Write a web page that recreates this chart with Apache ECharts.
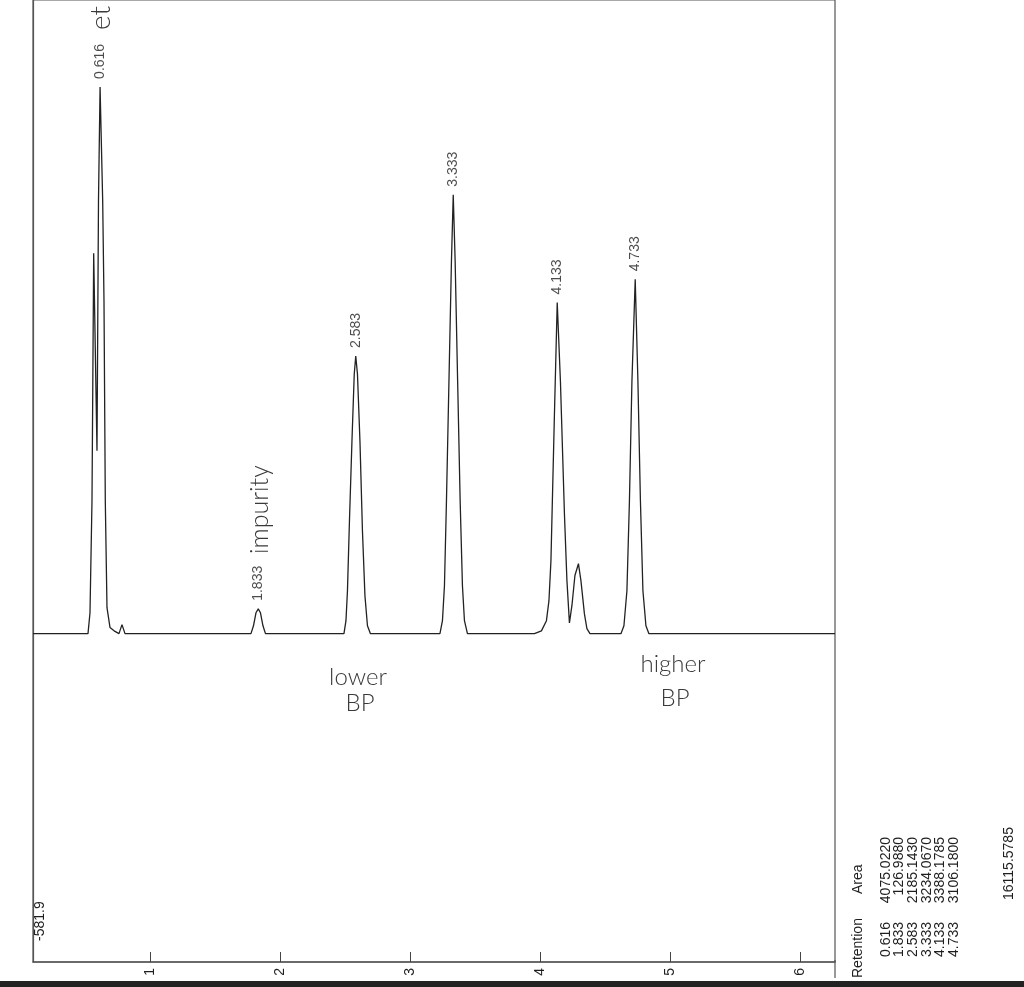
<!DOCTYPE html>
<html>
<head>
<meta charset="utf-8">
<script src="https://cdn.jsdelivr.net/npm/echarts@6/dist/echarts.min.js"></script>
<style>
  html, body { margin: 0; padding: 0; background: #fff; }
  #chart { width: 1024px; height: 987px; }
</style>
</head>
<body>
<div id="chart"></div>
<script>
// peak table printed by the integrator
var retention = [0.616, 1.833, 2.583, 3.333, 4.133, 4.733];
var areas = ["4075.0220", "126.9880", "2185.1430", "3234.0670", "3388.1785", "3106.1800"];
var totalArea = "16115.5785";
var xTicks = [1, 2, 3, 4, 5, 6];
var yMin = -581.9;
var yMax = 1123;
var xMin = 0.1;
var xMax = 6.27;

// trace as [minutes, signal]
var leadIn = [[0.1, 0]];
var peak0616 = [[0.5231, 0], [0.5385, 37], [0.5538, 235], [0.5669, 674], [0.5923, 324],
  [0.6038, 766], [0.616, 969], [0.6362, 766], [0.6462, 589], [0.6562, 235], [0.6692, 46],
  [0.6923, 11], [0.7308, 4], [0.7615, 0], [0.7846, 16], [0.8077, 0]];
var peak1833 = [[1.7769, 0], [1.7962, 14], [1.8154, 37], [1.833, 44], [1.85, 37],
  [1.8692, 14], [1.8885, 0]];
var peak2583 = [[2.4923, 0], [2.5077, 23], [2.5192, 76], [2.5346, 200], [2.5538, 341],
  [2.5715, 460], [2.583, 492], [2.5962, 460], [2.6154, 341], [2.6346, 182], [2.6538, 67],
  [2.6731, 14], [2.6962, 0]];
var peak3333 = [[3.2308, 0], [3.25, 23], [3.2654, 85], [3.2808, 235], [3.3, 447],
  [3.3192, 660], [3.333, 778], [3.3477, 660], [3.3669, 447], [3.3862, 235], [3.4038, 85],
  [3.4192, 23], [3.4423, 0]];
var peak4133 = [[3.9577, 0], [4.0115, 5], [4.05, 23], [4.0692, 58], [4.0846, 129],
  [4.1115, 389], [4.133, 587], [4.1577, 447], [4.1885, 212], [4.2077, 94], [4.2269, 19],
  [4.2462, 50], [4.2692, 103], [4.2962, 124], [4.3154, 94], [4.3423, 35], [4.3615, 9],
  [4.3846, 0]];
var peak4733 = [[4.6231, 0], [4.6462, 14], [4.6692, 76], [4.6885, 235], [4.7077, 447],
  [4.733, 628], [4.7538, 447], [4.7731, 235], [4.7923, 76], [4.8154, 14], [4.8385, 0]];
var tail = [[6.27, 0]];

var peaks = [peak0616, peak1833, peak2583, peak3333, peak4133, peak4733];
var trace = leadIn.concat(peak0616, peak1833, peak2583, peak3333, peak4133, peak4733, tail);

// apex of each peak carries its retention label
var apexes = peaks.map(function (p, i) {
  var top = p[0];
  p.forEach(function (d) { if (d[1] > top[1]) top = d; });
  return { value: top, name: retention[i].toFixed(3) };
});

var txt = "#1e1e1e";
var hand = "#3a3a3a";
var font = "Liberation Sans";
var handFont = "Lato";

function vtext(x, y, s, align, size, family, color, weight) {
  return {
    type: "text", x: x, y: y, rotation: Math.PI / 2, silent: true,
    style: {
      text: s, fill: color || txt, font: (weight || "normal") + " " + (size || 14) + "px '" + (family || font) + "'",
      textAlign: align || "left", textVerticalAlign: "middle"
    }
  };
}

var table = [];
table.push(vtext(858, 978, "Retention"));
table.push(vtext(858, 894, "Area"));
retention.forEach(function (r, i) {
  var x = 886 + 13.6 * i;
  table.push(vtext(x, 957, r.toFixed(3)));
  table.push(vtext(x, 837, areas[i], "right"));
});
table.push(vtext(1009, 900, totalArea));
table.push(vtext(40, 941, String(yMin)));

// handwritten notes on the printout
function note(x, y, s) {
  return { type: "text", x: x, y: y, silent: true,
    style: { text: s, fill: hand, font: "300 24px '" + handFont + "'", textAlign: "center", textVerticalAlign: "middle" } };
}
var notes = [
  vtext(101, 30, "et", "left", 28, handFont, hand, "300"),
  vtext(260, 554, "impurity", "left", 25, handFont, hand, "300"),
  note(358, 677, "lower"),
  note(360, 703, "BP"),
  note(673, 664, "higher"),
  note(675, 698, "BP")
];

var frame = [
  { type: "line", silent: true, shape: { x1: 835, y1: 960, x2: 835, y2: 978 }, style: { stroke: "#555", lineWidth: 1.2 } },
  { type: "rect", silent: true, shape: { x: 0, y: 981, width: 1024, height: 6 }, style: { fill: "#222" } }
];

var myChart = echarts.init(document.getElementById("chart"));
myChart.setOption({
  backgroundColor: "#fff",
  animation: false,
  grid: {
    left: 33, right: 189, top: -4, bottom: 25,
    show: true, borderColor: "#555", borderWidth: 1.2
  },
  xAxis: {
    type: "value",
    min: xMin,
    max: xMax,
    axisLine: { onZero: false, lineStyle: { color: "#555", width: 1.5 } },
    axisTick: { show: true, inside: true, length: 10, customValues: xTicks, lineStyle: { color: "#444" } },
    axisLabel: { customValues: xTicks, rotate: 90, margin: 6, color: txt, fontSize: 14, fontFamily: font },
    splitLine: { show: false }
  },
  yAxis: {
    type: "value",
    min: yMin,
    max: yMax,
    axisLine: { show: true, lineStyle: { color: "#555", width: 1.2 } },
    axisTick: { show: false },
    axisLabel: { show: false },
    splitLine: { show: false }
  },
  series: [
    {
      type: "line",
      data: trace,
      symbol: "none",
      lineStyle: { color: "#222", width: 1.3 },
      z: 3
    },
    {
      type: "scatter",
      data: apexes,
      symbolSize: 0,
      silent: true,
      label: {
        show: true,
        position: "top",
        distance: 8,
        rotate: 90,
        align: "left",
        verticalAlign: "middle",
        formatter: "{b}",
        color: txt,
        fontSize: 14,
        fontFamily: font
      }
    }
  ],
  graphic: table.concat(notes, frame)
});
</script>
</body>
</html>
